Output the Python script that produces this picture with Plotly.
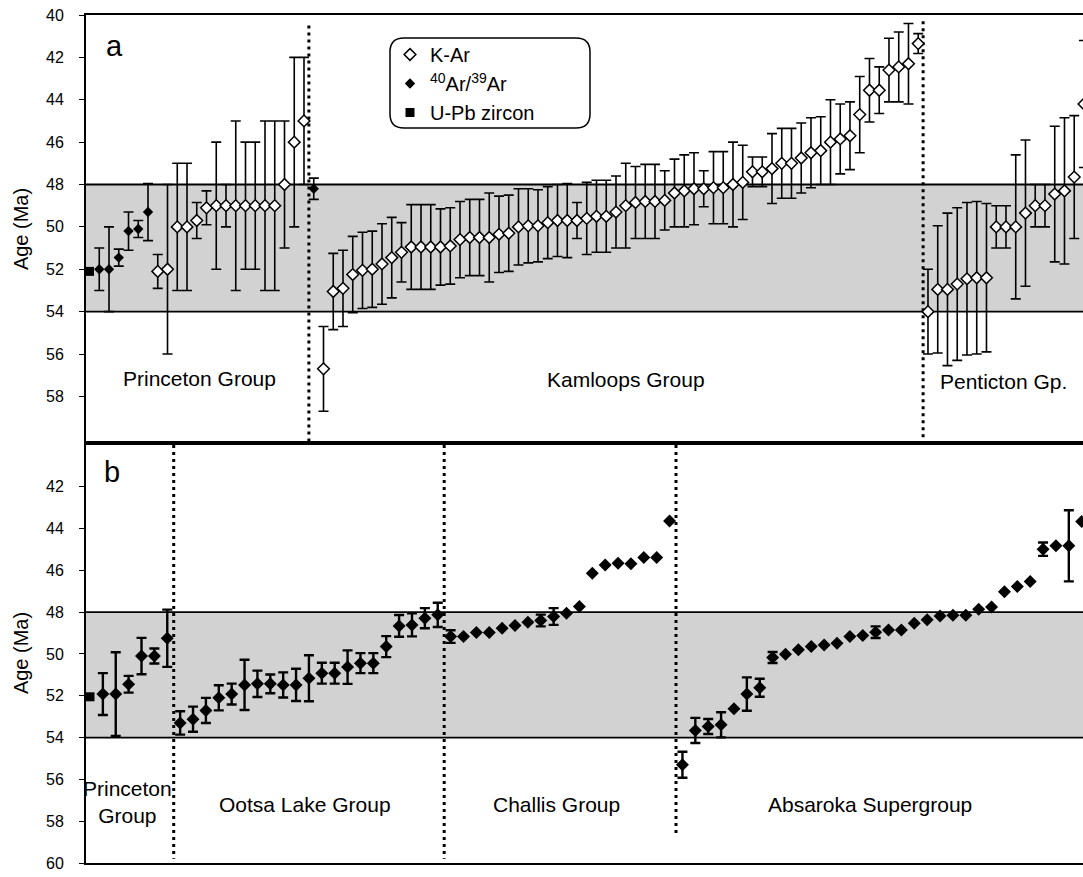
import plotly.graph_objects as go

FONT = "Liberation Sans, Arial, Helvetica, sans-serif"

# ---------------- Panel a (method codes: "K" = K-Ar, "A" = 40Ar/39Ar, "U" = U-Pb zircon)
a_princeton_method = ["U"] + ["A"] * 6 + ["K"] * 16
a_princeton_age = [52.1, 52.0, 52.0, 51.45, 50.2, 50.1, 49.3,
                   52.1, 52.0, 50.0, 50.0, 49.7, 49.1, 49.0, 49.0, 49.0, 49.0, 49.0, 49.0, 49.0,
                   48.0, 46.0, 45.0]
a_princeton_err = [0, 1.0, 2.0, 0.4, 0.9, 0.4, 1.35,
                   0.8, 4.0, 3.0, 3.0, 0.85, 0.8, 3.0, 1.0, 4.0, 3.0, 3.0, 4.0, 4.0,
                   3.0, 4.0, 3.0]

a_kamloops_method = ["A"] + ["K"] * 62
a_kamloops_age = [48.2,
                  56.7, 53.05, 52.9, 52.25, 52.05, 52.0, 51.75, 51.45, 51.2, 50.95,
                  50.95, 50.95, 50.95, 50.9, 50.6, 50.5, 50.5, 50.5, 50.35, 50.3,
                  50.0, 49.95, 49.95, 49.8, 49.7, 49.7, 49.7, 49.6, 49.5, 49.5,
                  49.3, 49.0, 48.85, 48.8, 48.8, 48.75, 48.4, 48.3, 48.2, 48.2,
                  48.15, 48.15, 48.0, 47.9, 47.4, 47.4, 47.25, 47.0, 47.0, 46.75,
                  46.5, 46.4, 46.0, 45.85, 45.7, 44.7, 43.55, 43.55, 42.6, 42.45,
                  42.3, 41.35]
a_kamloops_err = [0.5,
                  2.0, 1.8, 1.8, 1.8, 1.8, 1.8, 1.9, 1.9, 1.4, 2.0,
                  2.0, 2.0, 1.8, 1.8, 1.8, 1.8, 1.8, 2.1, 1.8, 1.8,
                  1.8, 1.75, 1.7, 1.7, 1.7, 1.75, 0.85, 1.7, 1.7, 1.7,
                  1.7, 2.0, 1.7, 1.75, 1.75, 1.4, 1.6, 1.7, 1.7, 0.85,
                  1.7, 1.7, 2.0, 1.75, 0.7, 0.7, 1.65, 1.65, 1.65, 1.65,
                  1.65, 1.6, 2.0, 1.65, 1.6, 1.8, 1.5, 1.1, 1.5, 1.65,
                  1.9, 0.47]

a_penticton_method = ["K"] * 17
a_penticton_age = [54.0, 52.95, 52.95, 52.7, 52.45, 52.4, 52.4, 50.0, 50.0, 50.0,
                   49.35, 49.0, 49.0, 48.45, 48.3, 47.65, 44.2]
a_penticton_err = [2.0, 3.0, 3.6, 3.6, 3.6, 3.6, 3.5, 1.0, 1.0, 3.4,
                   3.45, 1.0, 1.0, 3.2, 3.45, 2.9, 3.0]

# ---------------- Panel b
b_princeton_method = ["U"] + ["A"] * 6
b_princeton_age = [52.05, 51.92, 51.92, 51.45, 50.1, 50.1, 49.25]
b_princeton_err = [0, 1.0, 2.0, 0.4, 0.87, 0.36, 1.37]

b_ootsa_method = ["A"] * 21
b_ootsa_age = [53.3, 53.12, 52.7, 52.1, 51.92, 51.48, 51.43, 51.43, 51.48, 51.48,
               51.16, 50.92, 50.92, 50.63, 50.44, 50.44, 49.65, 48.66, 48.61, 48.29, 48.13]
b_ootsa_err = [0.56, 0.6, 0.6, 0.6, 0.5, 1.2, 0.63, 0.45, 0.6, 0.77,
               1.1, 0.5, 0.5, 0.8, 0.48, 0.48, 0.5, 0.52, 0.55, 0.48, 0.58]

b_challis_method = ["A"] * 18
b_challis_age = [49.17, 49.17, 48.98, 48.98, 48.77, 48.64, 48.48, 48.4, 48.21, 48.05,
                 47.73, 46.14, 45.74, 45.66, 45.69, 45.39, 45.39, 43.64]
b_challis_err = [0.3, 0, 0, 0, 0, 0, 0, 0.28, 0.4, 0,
                 0, 0, 0, 0, 0, 0, 0, 0]

b_absaroka_method = ["A"] * 32
b_absaroka_age = [55.3, 53.66, 53.47, 53.39, 52.62, 51.92, 51.62, 50.17, 50.01, 49.8,
                  49.65, 49.57, 49.49, 49.17, 49.12, 48.96, 48.85, 48.85, 48.53, 48.37,
                  48.18, 48.15, 48.15, 47.86, 47.76, 47.02, 46.78, 46.54, 44.99, 44.83,
                  44.83, 43.67]
b_absaroka_err = [0.62, 0.6, 0.36, 0.6, 0, 0.8, 0.43, 0.26, 0, 0,
                  0, 0, 0, 0, 0, 0.28, 0, 0, 0, 0,
                  0, 0, 0, 0, 0, 0, 0, 0, 0.32, 0,
                  1.7, 0]

a_groups = [(a_princeton_method, a_princeton_age, a_princeton_err),
            (a_kamloops_method, a_kamloops_age, a_kamloops_err),
            (a_penticton_method, a_penticton_age, a_penticton_err)]
b_groups = [(b_princeton_method, b_princeton_age, b_princeton_err),
            (b_ootsa_method, b_ootsa_age, b_ootsa_err),
            (b_challis_method, b_challis_age, b_challis_err),
            (b_absaroka_method, b_absaroka_age, b_absaroka_err)]

legend_names = {"K": "K-Ar", "A": "<sup>40</sup>Ar/<sup>39</sup>Ar", "U": "U-Pb zircon"}
legend_rank = {"K": 1, "A": 2, "U": 3}

fig = go.Figure()
shown = set()


def add_panel(groups, xa, ya, sizes, thick, capw, legend_ok):
    idx = 0
    bounds = []
    buckets = {}
    for methods, ages, errs in groups:
        for m, a, e in zip(methods, ages, errs):
            key = (m, e > 0)
            buckets.setdefault(key, ([], [], []))
            buckets[key][0].append(idx)
            buckets[key][1].append(a)
            buckets[key][2].append(e)
            idx += 1
        bounds.append(idx - 0.5)
    order = [("K", True), ("K", False), ("A", True), ("A", False), ("U", True), ("U", False)]
    for key in order:
        if key not in buckets:
            continue
        m, has_err = key
        xs, ys, es = buckets[key]
        if m == "K":
            marker = dict(symbol="diamond", size=sizes["K"], color="white",
                          line=dict(color="black", width=1.5))
        elif m == "A":
            marker = dict(symbol="diamond", size=sizes["A"], color="black",
                          line=dict(color="black", width=0))
        else:
            marker = dict(symbol="square", size=sizes["U"], color="black",
                          line=dict(color="black", width=0))
        show = legend_ok and m not in shown
        if show:
            shown.add(m)
        fig.add_trace(go.Scatter(
            x=xs, y=ys, mode="markers", marker=marker,
            error_y=dict(type="data", array=es, visible=has_err, color="black",
                         thickness=thick, width=capw),
            xaxis=xa, yaxis=ya, name=legend_names[m], showlegend=show,
            legendgroup=m, legendrank=legend_rank[m], hoverinfo="x+y"))
    return bounds[:-1]


a_bounds = add_panel(a_groups, "x", "y", {"K": 9, "A": 8, "U": 9}, 1.6, 5, True)
b_bounds = add_panel(b_groups, "x2", "y2", {"K": 9, "A": 10, "U": 9}, 2.4, 5, False)

W, H = 1083, 877
ML, MR, MT, MB = 86, 0, 15, 14
PH = H - MT - MB
split = 1 - (443 - MT) / PH

shapes = []
BAND = "rgb(210,210,210)"
for xr, yr in [("x", "y"), ("x2", "y2")]:
    shapes.append(dict(type="rect", xref=xr + " domain", yref=yr, x0=0, x1=1, y0=48, y1=54,
                       fillcolor=BAND, line=dict(width=0), layer="below"))
    for yv in (48, 54):
        shapes.append(dict(type="line", xref=xr + " domain", yref=yr, x0=0, x1=1, y0=yv, y1=yv,
                           line=dict(color="black", width=1.8), layer="below"))

dot_dash = "3px,4px"
a_dot_ends = [(40.5, 60.2), (40.3, 60.2)]
for xb, (y0, y1) in zip(a_bounds, a_dot_ends):
    shapes.append(dict(type="line", xref="x", yref="y", x0=xb, x1=xb, y0=y0, y1=y1,
                       line=dict(color="black", width=3, dash=dot_dash), layer="below"))
b_dot_ends = [(40.0, 59.8), (40.0, 59.8), (40.0, 58.6)]
for xb, (y0, y1) in zip(b_bounds, b_dot_ends):
    shapes.append(dict(type="line", xref="x2", yref="y2", x0=xb, x1=xb, y0=y0, y1=y1,
                       line=dict(color="black", width=3, dash=dot_dash), layer="below"))


# rounded legend box (paper coords)
def px2x(px):
    return (px - ML) / (W - ML - MR)


def py2y(py):
    return 1 - (py - MT) / PH


bx0, bx1, by0, by1, r = 390, 590, 38, 128, 14
pts = [
    ("M", bx0 + r, by0), ("L", bx1 - r, by0), ("Q", bx1, by0, bx1, by0 + r),
    ("L", bx1, by1 - r), ("Q", bx1, by1, bx1 - r, by1), ("L", bx0 + r, by1),
    ("Q", bx0, by1, bx0, by1 - r), ("L", bx0, by0 + r), ("Q", bx0, by0, bx0 + r, by0),
]
path = ""
for p in pts:
    cmd = p[0]
    coords = p[1:]
    seg = []
    for k in range(0, len(coords), 2):
        seg.append(f"{px2x(coords[k]):.5f},{py2y(coords[k + 1]):.5f}")
    path += cmd + " " + " ".join(seg) + " "
path += "Z"
shapes.append(dict(type="path", xref="paper", yref="paper", path=path,
                   line=dict(color="black", width=1.5), fillcolor="rgba(0,0,0,0)", layer="above"))

ann_font = dict(family=FONT, size=21, color="black")
annotations = [
    dict(text="a", x=2.56, y=41.47, xref="x", yref="y", showarrow=False,
         font=dict(family=FONT, size=29, color="black")),
    dict(text="Princeton Group", x=11.3, y=57.16, xref="x", yref="y", showarrow=False, font=ann_font),
    dict(text="Kamloops Group", x=55.0, y=57.2, xref="x", yref="y", showarrow=False, font=ann_font),
    dict(text="Penticton Gp.", x=93.7, y=57.3, xref="x", yref="y", showarrow=False, font=ann_font),
    dict(text="b", x=1.7, y=41.28, xref="x2", yref="y2", showarrow=False,
         font=dict(family=FONT, size=29, color="black")),
    dict(text="Princeton<br>Group", x=2.9, y=57.07, xref="x2", yref="y2", showarrow=False, font=ann_font),
    dict(text="Ootsa Lake Group", x=16.7, y=57.18, xref="x2", yref="y2", showarrow=False, font=ann_font),
    dict(text="Challis Group", x=36.2, y=57.18, xref="x2", yref="y2", showarrow=False, font=ann_font),
    dict(text="Absaroka Supergroup", x=60.6, y=57.18, xref="x2", yref="y2", showarrow=False, font=ann_font),
]

xcommon = dict(showline=True, mirror=True, linewidth=2, linecolor="black", showticklabels=False,
               ticks="", showgrid=False, zeroline=False, domain=[0, 1])
ycommon = dict(showline=True, linewidth=2, linecolor="black", ticks="outside", ticklen=5,
               tickwidth=1, tickcolor="black", showgrid=False, zeroline=False,
               tickfont=dict(family=FONT, size=16, color="black"), ticklabelstandoff=12,
               title=dict(text="Age (Ma)", font=dict(family=FONT, size=20, color="black"), standoff=12))

fig.update_layout(
    width=W, height=H,
    margin=dict(l=ML, r=MR, t=MT, b=MB, autoexpand=False),
    paper_bgcolor="white", plot_bgcolor="white",
    font=dict(family=FONT, color="black"),
    xaxis=dict(xcommon, anchor="y", range=[-0.36, 101.9]),
    yaxis=dict(ycommon, anchor="x", domain=[split, 1], range=[60.2, 40],
               tickvals=list(range(40, 60, 2))),
    xaxis2=dict(xcommon, anchor="y2", range=[-0.31, 77.1]),
    yaxis2=dict(ycommon, anchor="x2", domain=[0, split], range=[60, 39.91],
                tickvals=list(range(42, 61, 2))),
    shapes=shapes,
    annotations=annotations,
    showlegend=True,
    legend=dict(x=px2x(390), y=py2y(35), xanchor="left", yanchor="top",
                bgcolor="rgba(0,0,0,0)", borderwidth=0, tracegroupgap=0,
                font=dict(family=FONT, size=20, color="black"), itemsizing="trace"),
)

fig.write_html("out.html")
